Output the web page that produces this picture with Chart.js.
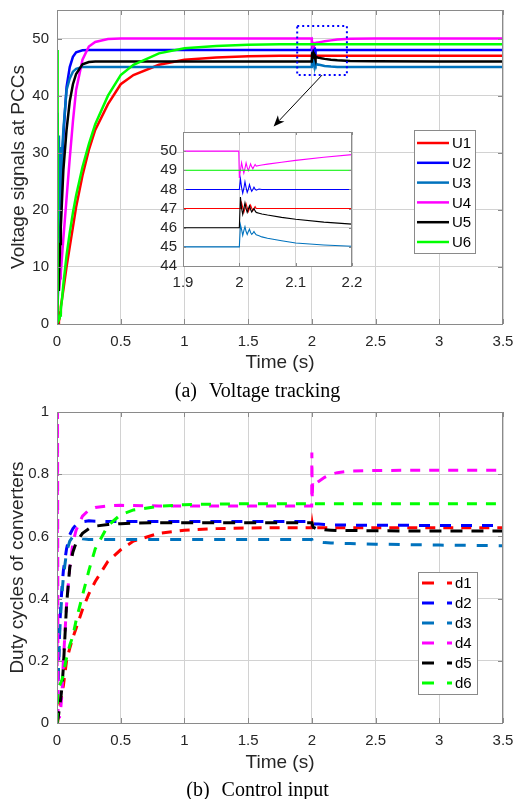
<!DOCTYPE html>
<html>
<head>
<meta charset="utf-8">
<script src="https://cdn.jsdelivr.net/npm/chart.js@4.4.1/dist/chart.umd.min.js"></script>
<style>
    html, body { margin: 0; padding: 0; background: #fff; }
    #pagina { position: relative; width: 515px; height: 799px; overflow: hidden; }
    canvas { position: absolute; }
    .subtitulo { position: absolute; left: 0; width: 515px; text-align: center; font-family: 'Liberation Serif', 'Times New Roman', serif; font-size: 20px; line-height: 20px; color: #000; }
</style>
</head>
<body>
<div id="pagina">
    <canvas id="graficoTensao" width="515" height="400" style="left:0;top:0"></canvas>
    <canvas id="graficoZoom" width="240" height="190" style="left:140px;top:110px"></canvas>
    <canvas id="graficoRazao" width="515" height="399" style="left:0;top:400px"></canvas>
    <div class="subtitulo" style="top:380px">(a)<span style="margin-left:12px">Voltage tracking</span></div>
    <div class="subtitulo" style="top:779px">(b)<span style="margin-left:12px">Control input</span></div>
</div>
<script>
// tensoes nos PCCs (V)
var tempoU = [0, 0.005, 0.01, 0.015, 0.02, 0.025, 0.03, 0.04, 0.05, 0.075, 0.1, 0.125, 0.15, 0.2, 0.25, 0.3,
    0.4, 0.5, 0.6, 0.8, 1, 1.25, 1.5, 1.75, 1.999,
    2, 2.002, 2.004, 2.006, 2.008, 2.01, 2.012, 2.014, 2.016, 2.018, 2.02, 2.022, 2.024, 2.026, 2.028, 2.03,
    2.035, 2.04, 2.05, 2.075, 2.1, 2.15, 2.2, 2.3, 2.5, 3, 3.5];
var u1 = [0, 0, 0, 0.5, 1, 2, 3, 4.5, 6, 10, 13.5, 17, 20.5, 26, 30.5, 34,
    38.5, 42, 43.6, 45.4, 46.3, 46.7, 46.9, 47, 47,
    47, 47, 47.3, 47.05, 46.8, 47, 47.25, 47.05, 46.85, 47, 47.18, 47.02, 46.9, 47, 47.1, 47,
    47, 47, 47, 47, 47, 47, 47, 47, 47, 47, 47];
var u2 = [0, 3.5, 7, 11, 15, 19, 23, 28.5, 33, 41.5, 45, 46.8, 47.6, 47.95, 48, 48,
    48, 48, 48, 48, 48, 48, 48, 48, 48,
    48, 48.55, 48.1, 47.8, 48.05, 48.4, 48.1, 47.85, 48, 48.25, 48.05, 47.9, 48, 48.12, 48.02, 47.96,
    48.02, 48, 48, 48, 48, 48, 48, 48, 48, 48, 48];
var u3 = [0, 37, 14, 33, 18, 31, 22, 30, 34, 41, 43, 44.2, 44.7, 45, 45, 45,
    45, 45, 45, 45, 45, 45, 45, 45, 45,
    45, 46.15, 45.9, 45.6, 45.85, 46.05, 45.8, 45.65, 45.8, 45.92, 45.75, 45.65, 45.72, 45.8, 45.7, 45.63,
    45.58, 45.52, 45.45, 45.32, 45.2, 45.1, 45.03, 45, 45, 45, 45];
var u4 = [0, 15, 8, 6, 7, 8, 9, 12, 15, 22, 29, 35.5, 41, 46.3, 48.6, 49.4,
    49.9, 50, 50, 50, 50, 50, 50, 50, 50,
    48.6, 49, 49.4, 49.1, 48.85, 49.1, 49.38, 49.15, 48.98, 49.15, 49.33, 49.18, 49.08, 49.2, 49.3, 49.22,
    49.25, 49.28, 49.32, 49.42, 49.52, 49.68, 49.82, 49.95, 50, 50, 50];
var u5 = [0, 10, 6, 8, 11, 14, 17, 22, 27, 34, 39, 42, 43.8, 45.5, 45.9, 46,
    46, 46, 46, 46, 46, 46, 46, 46, 46,
    46, 47.6, 47, 46.7, 47, 47.3, 47, 46.8, 46.98, 47.15, 46.95, 46.82, 46.92, 47, 46.88, 46.8,
    46.76, 46.72, 46.66, 46.54, 46.44, 46.29, 46.19, 46.08, 46.02, 46, 46];
var u6 = [48, 1, 0.5, 0.5, 1, 1.5, 2.5, 4.5, 7, 12, 16, 19.5, 22.5, 27.5, 31.5, 35,
    40, 43.6, 45.4, 47.4, 48.3, 48.7, 48.9, 49, 49,
    49, 49, 49, 49, 49, 49, 49, 49, 49, 49, 49, 49, 49, 49, 49, 49,
    49, 49, 49, 49, 49, 49, 49, 49, 49, 49, 49];

// razoes ciclicas dos conversores
var tempoD = [0, 0.004, 0.008, 0.01, 0.02, 0.03, 0.04, 0.05, 0.075, 0.1, 0.125, 0.15,
    0.2, 0.25, 0.3, 0.4, 0.5, 0.6, 0.8, 1, 1.25, 1.5, 1.75, 1.999,
    2, 2.003, 2.006, 2.01, 2.03, 2.05, 2.1, 2.15, 2.2, 2.3, 2.5, 3, 3.5];
var d1 = [0, 0, 0.01, 0.02, 0.05, 0.08, 0.1, 0.12, 0.2, 0.24, 0.275, 0.305,
    0.365, 0.415, 0.455, 0.52, 0.557, 0.585, 0.61, 0.62, 0.625, 0.627, 0.628, 0.628,
    0.628, 0.64, 0.632, 0.628, 0.628, 0.628, 0.628, 0.628, 0.628, 0.628, 0.628, 0.628, 0.628];
var d2 = [0, 0.08, 0.13, 0.15, 0.3, 0.38, 0.44, 0.49, 0.56, 0.605, 0.625, 0.638,
    0.647, 0.65, 0.649, 0.648, 0.648, 0.648, 0.648, 0.648, 0.648, 0.648, 0.648, 0.648,
    0.648, 0.645, 0.642, 0.641, 0.64, 0.64, 0.638, 0.637, 0.637, 0.636, 0.636, 0.635, 0.635];
var d3 = [0, 0.07, 0.12, 0.15, 0.28, 0.36, 0.42, 0.47, 0.55, 0.585, 0.6, 0.598,
    0.592, 0.59, 0.59, 0.59, 0.59, 0.59, 0.59, 0.59, 0.59, 0.59, 0.59, 0.59,
    0.59, 0.586, 0.584, 0.583, 0.582, 0.582, 0.58, 0.579, 0.578, 0.577, 0.575, 0.572, 0.57];
var d4 = [0, 1, 0.02, 0.02, 0.02, 0.05, 0.1, 0.2, 0.38, 0.5, 0.58, 0.62,
    0.665, 0.685, 0.693, 0.698, 0.7, 0.699, 0.698, 0.698, 0.698, 0.698, 0.698, 0.698,
    0.87, 0.72, 0.77, 0.76, 0.77, 0.776, 0.79, 0.8, 0.805, 0.81, 0.812, 0.813, 0.813];
var d5 = [0, 0.01, 0.015, 0.02, 0.05, 0.08, 0.12, 0.18, 0.38, 0.5, 0.55, 0.58,
    0.61, 0.625, 0.633, 0.638, 0.641, 0.643, 0.644, 0.644, 0.644, 0.644, 0.644, 0.644,
    0.644, 0.64, 0.635, 0.63, 0.626, 0.624, 0.621, 0.62, 0.619, 0.619, 0.618, 0.617, 0.617];
var d6 = [0, 0.08, 0.1, 0.1, 0.12, 0.13, 0.14, 0.16, 0.21, 0.25, 0.28, 0.33,
    0.41, 0.49, 0.56, 0.635, 0.67, 0.685, 0.697, 0.702, 0.704, 0.705, 0.705, 0.705,
    0.705, 0.705, 0.705, 0.705, 0.705, 0.705, 0.705, 0.705, 0.705, 0.705, 0.705, 0.705, 0.705];

var rotulosU = ['U1', 'U2', 'U3', 'U4', 'U5', 'U6'];
var rotulosD = ['d1', 'd2', 'd3', 'd4', 'd5', 'd6'];
var cores = ['#ff0000', '#0000ff', '#0072bd', '#ff00ff', '#000000', '#00ff00'];
var tracos = [[10, 8], [11, 10], [11, 11], [10, 9], [12, 9], [10, 9]];

var ticksTempo = [0, 0.5, 1, 1.5, 2, 2.5, 3, 3.5];
var ticksTensao = [0, 10, 20, 30, 40, 50];
var ticksRazao = [0, 0.2, 0.4, 0.6, 0.8, 1];
var ticksZoomX = [1.9, 2, 2.1, 2.2];
var ticksZoomY = [44, 45, 46, 47, 48, 49, 50];

// janela ampliada (tempo, tensao) e seta ate o detalhe
var janelaZoom = [1.885, 2.275, 43.6, 52.2];
var setaZoom = [2.08, 43.6, 1.7, 34.6];

var familia = "'Liberation Sans', Arial, Helvetica, sans-serif";
var corTexto = '#262626';
var corBorda = '#8a8a8a';
var corGrade = '#d2d2d2';

var montarSerie = function (tempo, valores) {
    return tempo.map(function (t, i) { return { x: t, y: valores[i] }; });
};

var fixarTicks = function (lista) {
    return function (escala) {
        escala.ticks = lista.map(function (v) { return { value: v }; });
    };
};

var formatarTick = function (v) {
    return String(Math.round(v * 100) / 100);
};

var eixo = function (config) {
    var horizontal = config.horizontal;
    return {
        type: 'linear',
        min: config.min,
        max: config.max,
        afterBuildTicks: fixarTicks(config.ticks),
        afterFit: function (escala) {
            if (horizontal) {
                escala.height = config.tamanho;
                escala.paddingLeft = 0;
                escala.paddingRight = 0;
            } else {
                escala.width = config.tamanho;
                escala.paddingTop = 0;
                escala.paddingBottom = 0;
            }
        },
        grid: { color: corGrade, lineWidth: 1, drawTicks: false },
        border: { display: false },
        ticks: {
            color: corTexto,
            font: { family: familia, size: 15 },
            padding: config.afastamento,
            maxRotation: 0,
            autoSkip: false,
            callback: formatarTick
        },
        title: {
            display: !!config.titulo,
            text: config.titulo,
            color: corTexto,
            font: { family: familia, size: 19 },
            padding: horizontal ? { top: 0, bottom: config.tituloPad } : { top: config.tituloPad, bottom: 0 }
        }
    };
};

var contornoEixos = {
    id: 'contornoEixos',
    beforeDraw: function (chart, args, opts) {
        if (!opts.fundo) return;
        var a = chart.chartArea;
        chart.ctx.save();
        chart.ctx.fillStyle = opts.fundo;
        chart.ctx.fillRect(a.left, a.top, a.right - a.left, a.bottom - a.top);
        chart.ctx.restore();
    },
    afterDatasetsDraw: function (chart, args, opts) {
        var ctx = chart.ctx, a = chart.chartArea;
        var tam = opts.marca || 4;
        ctx.save();
        ctx.strokeStyle = corBorda;
        ctx.lineWidth = 1;
        ctx.beginPath();
        chart.scales.x.ticks.forEach(function (t) {
            var px = Math.round(chart.scales.x.getPixelForValue(t.value)) + 0.5;
            ctx.moveTo(px, a.bottom); ctx.lineTo(px, a.bottom - tam);
            ctx.moveTo(px, a.top); ctx.lineTo(px, a.top + tam);
        });
        chart.scales.y.ticks.forEach(function (t) {
            var py = Math.round(chart.scales.y.getPixelForValue(t.value)) + 0.5;
            ctx.moveTo(a.left, py); ctx.lineTo(a.left + tam, py);
            ctx.moveTo(a.right, py); ctx.lineTo(a.right - tam, py);
        });
        ctx.stroke();
        ctx.strokeRect(a.left + 0.5, a.top + 0.5, a.right - a.left - 1, a.bottom - a.top);
        ctx.restore();
    }
};

var legendaQuadro = {
    id: 'legendaQuadro',
    afterDatasetsDraw: function (chart, args, opts) {
        if (!opts.largura) return;
        var ctx = chart.ctx, a = chart.chartArea;
        var x0 = Math.round(a.right - opts.direita - opts.largura);
        var y0 = Math.round(a.top + opts.topo);
        ctx.save();
        ctx.fillStyle = '#ffffff';
        ctx.fillRect(x0, y0, opts.largura, opts.altura);
        ctx.strokeStyle = corBorda;
        ctx.lineWidth = 1;
        ctx.strokeRect(x0 + 0.5, y0 + 0.5, opts.largura, opts.altura);
        ctx.font = '15px ' + familia;
        ctx.textBaseline = 'middle';
        chart.data.datasets.forEach(function (ds, i) {
            var y = y0 + opts.primeira + i * opts.passo;
            ctx.strokeStyle = ds.borderColor;
            ctx.lineWidth = opts.espessura;
            ctx.setLineDash(opts.traco || []);
            ctx.beginPath();
            ctx.moveTo(x0 + opts.linhaIni, y);
            ctx.lineTo(x0 + opts.linhaFim, y);
            ctx.stroke();
            ctx.setLineDash([]);
            ctx.fillStyle = '#000000';
            ctx.fillText(ds.label, x0 + opts.texto, y + 1);
        });
        ctx.restore();
    }
};

var marcaZoom = {
    id: 'marcaZoom',
    afterDatasetsDraw: function (chart) {
        var ctx = chart.ctx, xs = chart.scales.x, ys = chart.scales.y;
        var l = xs.getPixelForValue(janelaZoom[0]), r = xs.getPixelForValue(janelaZoom[1]);
        var t = ys.getPixelForValue(janelaZoom[3]), b = ys.getPixelForValue(janelaZoom[2]);
        ctx.save();
        ctx.strokeStyle = '#0000ff';
        ctx.lineWidth = 2;
        ctx.setLineDash([2, 3]);
        ctx.strokeRect(l, t, r - l, b - t);
        ctx.setLineDash([]);

        var x1 = xs.getPixelForValue(setaZoom[0]), y1 = ys.getPixelForValue(setaZoom[1]);
        var x2 = xs.getPixelForValue(setaZoom[2]), y2 = ys.getPixelForValue(setaZoom[3]);
        var ang = Math.atan2(y2 - y1, x2 - x1);
        ctx.strokeStyle = '#000000';
        ctx.lineWidth = 1;
        ctx.beginPath();
        ctx.moveTo(x1, y1);
        ctx.lineTo(x2 - 8 * Math.cos(ang), y2 - 8 * Math.sin(ang));
        ctx.stroke();
        ctx.fillStyle = '#000000';
        ctx.beginPath();
        ctx.moveTo(x2, y2);
        ctx.lineTo(x2 - 11 * Math.cos(ang) + 4.5 * Math.sin(ang), y2 - 11 * Math.sin(ang) - 4.5 * Math.cos(ang));
        ctx.lineTo(x2 - 8 * Math.cos(ang), y2 - 8 * Math.sin(ang));
        ctx.lineTo(x2 - 11 * Math.cos(ang) - 4.5 * Math.sin(ang), y2 - 11 * Math.sin(ang) + 4.5 * Math.cos(ang));
        ctx.closePath();
        ctx.fill();
        ctx.restore();
    }
};

var criarDatasets = function (tempo, series, rotulos, espessura, comTraco) {
    return series.map(function (valores, i) {
        return {
            label: rotulos[i],
            data: montarSerie(tempo, valores),
            borderColor: cores[i],
            backgroundColor: cores[i],
            borderWidth: espessura,
            borderDash: comTraco ? tracos[i] : [],
            pointRadius: 0,
            tension: 0,
            fill: false,
            order: series.length - i
        };
    });
};

var seriesU = [u1, u2, u3, u4, u5, u6];
var seriesD = [d1, d2, d3, d4, d5, d6];

new Chart(document.getElementById('graficoTensao'), {
    type: 'line',
    data: { datasets: criarDatasets(tempoU, seriesU, rotulosU, 2.5, false) },
    options: {
        responsive: false,
        animation: false,
        devicePixelRatio: 1,
        layout: { padding: { top: 10, right: 12, left: 0, bottom: 0 } },
        scales: {
            x: eixo({ horizontal: true, min: 0, max: 3.5, ticks: ticksTempo, tamanho: 76, afastamento: 9, titulo: 'Time (s)', tituloPad: 26 }),
            y: eixo({ horizontal: false, min: 0, max: 55, ticks: ticksTensao, tamanho: 57, afastamento: 8, titulo: 'Voltage signals at PCCs', tituloPad: 7 })
        },
        plugins: {
            legend: { display: false },
            tooltip: { enabled: false },
            contornoEixos: { marca: 5 },
            legendaQuadro: { largura: 61, altura: 123, direita: 28, topo: 120, primeira: 13, passo: 19.8, linhaIni: 3, linhaFim: 35, texto: 38, espessura: 2.5 }
        }
    },
    plugins: [contornoEixos, marcaZoom, legendaQuadro]
});

new Chart(document.getElementById('graficoZoom'), {
    type: 'line',
    data: { datasets: criarDatasets(tempoU, seriesU, rotulosU, 1.1, false) },
    options: {
        responsive: false,
        animation: false,
        devicePixelRatio: 1,
        layout: { padding: { top: 22, right: 28, left: 0, bottom: 0 } },
        scales: {
            x: eixo({ horizontal: true, min: 1.9, max: 2.2, ticks: ticksZoomX, tamanho: 34, afastamento: 8 }),
            y: eixo({ horizontal: false, min: 44, max: 51, ticks: ticksZoomY, tamanho: 43, afastamento: 6 })
        },
        plugins: {
            legend: { display: false },
            tooltip: { enabled: false },
            contornoEixos: { fundo: '#ffffff', marca: 3 }
        }
    },
    plugins: [contornoEixos]
});

new Chart(document.getElementById('graficoRazao'), {
    type: 'line',
    data: { datasets: criarDatasets(tempoD, seriesD, rotulosD, 3, true) },
    options: {
        responsive: false,
        animation: false,
        devicePixelRatio: 1,
        layout: { padding: { top: 12, right: 12, left: 0, bottom: 0 } },
        scales: {
            x: eixo({ horizontal: true, min: 0, max: 3.5, ticks: ticksTempo, tamanho: 76, afastamento: 9, titulo: 'Time (s)', tituloPad: 25 }),
            y: eixo({ horizontal: false, min: 0, max: 1, ticks: ticksRazao, tamanho: 57, afastamento: 8, titulo: 'Duty cycles of converters', tituloPad: 6 })
        },
        plugins: {
            legend: { display: false },
            tooltip: { enabled: false },
            contornoEixos: { marca: 5 },
            legendaQuadro: { largura: 59, altura: 122, direita: 26, topo: 160, primeira: 11, passo: 20, linhaIni: 4, linhaFim: 34, texto: 37, espessura: 3, traco: [12, 13] }
        }
    },
    plugins: [contornoEixos, legendaQuadro]
});
</script>
</body>
</html>
